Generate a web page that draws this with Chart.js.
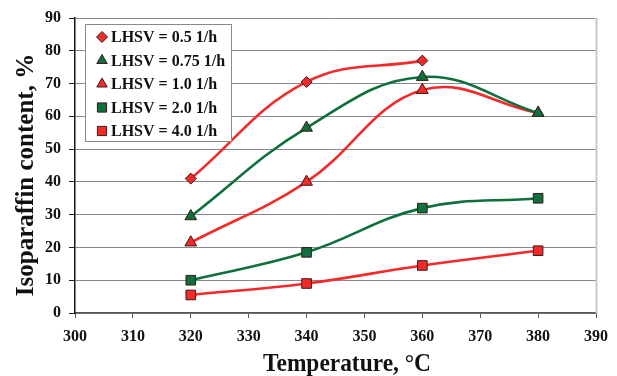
<!DOCTYPE html>
<html>
<head>
<meta charset="utf-8">
<script src="https://cdn.jsdelivr.net/npm/chart.js@4/dist/chart.umd.min.js"></script>
<style>
  html, body { margin: 0; padding: 0; background: #ffffff; }
  #wrap { position: relative; width: 617px; height: 376px; }
</style>
</head>
<body>
<div id="wrap"><canvas id="c" width="617" height="376"></canvas></div>
<script>
// ---- data ----
const temperatures = [320, 340, 360, 380];
const lhsv05  = [41.0, 70.5, 77.0];
const lhsv075 = [29.5, 56.5, 72.0, 61.0];
const lhsv10  = [21.5, 40.0, 68.0, 61.0];
const lhsv20  = [10.0, 18.5, 32.0, 35.0];
const lhsv40  = [5.5, 9.0, 14.5, 19.0];
const seriesLabels = ['LHSV = 0.5 1/h', 'LHSV = 0.75 1/h', 'LHSV = 1.0 1/h', 'LHSV = 2.0 1/h', 'LHSV = 4.0 1/h'];
const xAxisTitle = 'Temperature, °C';
const yAxisTitle = 'Isoparaffin content, %';

const RED = '#f22a2a';
const GREEN = '#0f6f3d';

function pts(vals) { return vals.map((v, i) => ({ x: temperatures[i], y: v })); }

function ds(label, vals, color, style, r) {
  return {
    label: label,
    data: pts(vals),
    borderColor: color,
    backgroundColor: color,
    borderWidth: 2.6,
    tension: 0.4,
    pointStyle: style,
    pointRadius: r,
    pointHoverRadius: r,
    pointBackgroundColor: color,
    pointBorderColor: '#3a1a1a',
    pointBorderWidth: 1,
    fill: false
  };
}

const datasets = [
  ds(seriesLabels[0], lhsv05, RED, 'rectRot', 5.5),
  ds(seriesLabels[1], lhsv075, GREEN, 'triangle', 6.8),
  ds(seriesLabels[2], lhsv10, RED, 'triangle', 6.8),
  ds(seriesLabels[3], lhsv20, GREEN, 'rect', 6.8),
  ds(seriesLabels[4], lhsv40, RED, 'rect', 6.8)
];
const FONT = '"Liberation Serif", "Times New Roman", serif';

const framePlugin = {
  id: 'frame',
  beforeDatasetsDraw(chart) {
    const a = chart.chartArea, ctx = chart.ctx;
    ctx.save();
    ctx.strokeStyle = '#c8c8c8';
    ctx.lineWidth = 2;
    ctx.beginPath();
    ctx.moveTo(a.right + 0.5, a.top);
    ctx.lineTo(a.right + 0.5, a.bottom);
    ctx.stroke();
    ctx.restore();
  }
};

const titlesPlugin = {
  id: 'axisTitles',
  afterDraw(chart) {
    const ctx = chart.ctx, a = chart.chartArea;
    ctx.save();
    ctx.fillStyle = '#111111';
    ctx.textAlign = 'center';
    ctx.textBaseline = 'alphabetic';
    // x title
    ctx.save();
    ctx.translate(347, 371);
    ctx.scale(0.9, 1);
    ctx.font = 'bold 26px ' + FONT;
    ctx.fillText(xAxisTitle, 0, 0);
    ctx.restore();
    // y title
    ctx.save();
    ctx.translate(33, 175);
    ctx.rotate(-Math.PI / 2);
    ctx.font = 'bold 25px ' + FONT;
    ctx.fillText(yAxisTitle, 0, 0);
    ctx.restore();
    ctx.restore();
  }
};

const legendPlugin = {
  id: 'boxLegend',
  afterDraw(chart) {
    const ctx = chart.ctx;
    const x0 = 85, y0 = 24, w = 146, h = 117;
    ctx.save();
    ctx.fillStyle = '#ffffff';
    ctx.fillRect(x0, y0, w, h);
    ctx.strokeStyle = '#8a8a8a';
    ctx.lineWidth = 1;
    ctx.strokeRect(x0 + 0.5, y0 + 0.5, w, h);
    const rowY = [37, 60.5, 84, 107.5, 131];
    chart.data.datasets.forEach((d, i) => {
      const y = rowY[i];
      ctx.fillStyle = d.pointBackgroundColor;
      ctx.strokeStyle = d.pointBorderColor;
      ctx.lineWidth = 1;
      Chart.helpers.drawPoint(ctx, {
        pointStyle: d.pointStyle,
        radius: d.pointStyle === 'rect' ? 6.5 : (d.pointStyle === 'triangle' ? 6 : 5.5),
        borderWidth: 1,
        rotation: 0
      }, 102, y);
      ctx.fillStyle = '#111111';
      ctx.font = 'bold 16px ' + FONT;
      ctx.textBaseline = 'middle';
      ctx.textAlign = 'left';
      ctx.fillText(d.label, 111, y + 1);
    });
    ctx.restore();
  }
};

new Chart(document.getElementById('c'), {
  type: 'line',
  data: { datasets: datasets },
  options: {
    responsive: false,
    animation: false,
    events: [],
    layout: { padding: { left: 0, top: 18, right: 14, bottom: 0 } },
    plugins: { legend: { display: false }, tooltip: { enabled: false } },
    scales: {
      x: {
        type: 'linear',
        min: 300, max: 390,
        afterFit(s) { s.height = 63; },
        ticks: { stepSize: 10, color: '#111', font: { family: FONT, size: 16, weight: 'bold' }, padding: 9, maxRotation: 0 },
        grid: { drawOnChartArea: false, drawTicks: true, tickLength: 5, color: '#555', tickColor: '#555' },
        border: { display: true, color: '#555', width: 1.5 },
        title: { display: false }
      },
      y: {
        min: 0, max: 90,
        afterFit(s) { s.width = 75; },
        ticks: { stepSize: 10, color: '#111', font: { family: FONT, size: 16, weight: 'bold' }, padding: 8 },
        grid: { color: '#8a8a8a', lineWidth: 1, drawTicks: true, tickLength: 6, tickColor: '#222' },
        border: { display: true, color: '#111', width: 1.5 },
        title: { display: false }
      }
    }
  },
  plugins: [framePlugin, titlesPlugin, legendPlugin]
});
</script>
</body>
</html>
